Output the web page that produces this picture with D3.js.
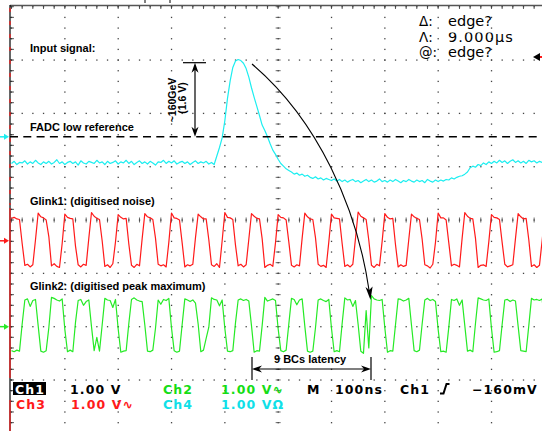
<!DOCTYPE html>
<html><head><meta charset="utf-8">
<script src="https://cdn.jsdelivr.net/npm/d3@7"></script>
<style>html,body{margin:0;padding:0;background:#fff;overflow:hidden}svg{display:block}</style>
</head><body>
<svg id="c" width="542" height="431"></svg>
<script>
// ---------- DATA ----------
const sampleStepNs = 5;            // one sample every 5 ns, 0..1000 ns (10 div x 100 ns)
// Ch4 (cyan) – input signal, volts relative to its ground marker
const ch4Values = [
 -0.50,-0.46,-0.52,-0.48,-0.49,-0.45,-0.51,-0.47,-0.50,-0.44,
 -0.49,-0.52,-0.47,-0.50,-0.46,-0.51,-0.48,-0.43,-0.50,-0.47,
 -0.52,-0.48,-0.46,-0.50,-0.47,-0.53,-0.45,-0.49,-0.51,-0.46,
 -0.48,-0.50,-0.44,-0.49,-0.47,-0.52,-0.46,-0.50,-0.48,-0.45,
 -0.51,-0.47,-0.49,-0.44,-0.50,-0.46,-0.52,-0.48,-0.45,-0.50,
 -0.47,-0.51,-0.46,-0.49,-0.53,-0.47,-0.48,-0.44,-0.50,-0.46,
 -0.49,-0.45,-0.51,-0.48,-0.46,-0.50,-0.47,-0.52,-0.48,-0.45,
 -0.50,-0.47,-0.49,-0.46,-0.51,-0.48,-0.52,-0.36,-0.20,-0.02,
  0.30, 0.72, 1.05, 1.30, 1.42, 1.45, 1.43, 1.38, 1.28, 1.12,
  0.92, 0.74, 0.57, 0.40, 0.22, 0.12, 0.00,-0.13,-0.25,-0.33,
 -0.42,-0.50,-0.55,-0.60,-0.63,-0.66,-0.70,-0.68,-0.72,-0.70,
 -0.74,-0.72,-0.76,-0.78,-0.75,-0.79,-0.77,-0.81,-0.78,-0.80,
 -0.82,-0.79,-0.83,-0.80,-0.84,-0.81,-0.85,-0.82,-0.80,-0.84,
 -0.82,-0.86,-0.83,-0.80,-0.84,-0.81,-0.85,-0.83,-0.79,-0.84,
 -0.82,-0.85,-0.81,-0.84,-0.80,-0.83,-0.86,-0.82,-0.84,-0.80,
 -0.83,-0.85,-0.81,-0.84,-0.82,-0.86,-0.80,-0.83,-0.85,-0.81,
 -0.84,-0.81,-0.83,-0.80,-0.81,-0.77,-0.79,-0.76,-0.74,-0.73,
 -0.70,-0.66,-0.58,-0.55,-0.57,-0.52,-0.54,-0.49,-0.52,-0.47,
 -0.50,-0.46,-0.49,-0.44,-0.48,-0.45,-0.50,-0.46,-0.43,-0.48,
 -0.45,-0.49,-0.46,-0.50,-0.44,-0.47,-0.45,-0.49,-0.46,-0.48,
 -0.47];
// Ch3 (red) – Glink1, digitised noise
const ch3Values = [
 0.42,0.44,0.41,0.40,-0.05,-0.46,-0.44,-0.49,-0.45,0.02,
 0.52,0.45,0.43,0.39,0.08,-0.47,-0.43,-0.48,-0.50,-0.05,
 0.50,0.44,0.42,0.41,-0.10,-0.45,-0.49,-0.44,-0.46,0.05,
 0.53,0.46,0.42,0.40,0.00,-0.48,-0.45,-0.50,-0.43,-0.02,
 0.49,0.44,0.41,0.42,-0.06,-0.46,-0.50,-0.44,-0.47,0.04,
 0.51,0.45,0.43,0.40,0.05,-0.44,-0.47,-0.45,-0.49,-0.03,
 0.52,0.43,0.42,0.39,-0.04,-0.49,-0.45,-0.47,-0.44,0.06,
 0.50,0.45,0.41,0.41,0.02,-0.45,-0.48,-0.43,-0.50,0.00,
 0.53,0.44,0.43,0.40,-0.08,-0.47,-0.44,-0.49,-0.45,0.03,
 0.51,0.46,0.42,0.41,0.04,-0.50,-0.46,-0.44,-0.48,-0.04,
 0.49,0.44,0.43,0.39,-0.02,-0.46,-0.49,-0.45,-0.47,0.05,
 0.52,0.45,0.41,0.40,0.06,-0.44,-0.48,-0.46,-0.50,-0.02,
 0.50,0.43,0.42,0.41,-0.05,-0.48,-0.45,-0.49,-0.44,0.04,
 0.54,0.46,0.43,0.40,0.01,-0.46,-0.50,-0.44,-0.47,-0.01,
 0.51,0.44,0.41,0.42,-0.07,-0.49,-0.45,-0.48,-0.46,0.03,
 0.50,0.45,0.42,0.40,0.03,-0.45,-0.47,-0.51,-0.44,-0.03,
 0.52,0.43,0.43,0.39,-0.04,-0.47,-0.44,-0.46,-0.49,0.05,
 0.53,0.46,0.42,0.41,0.05,-0.50,-0.46,-0.45,-0.48,-0.02,
 0.49,0.44,0.43,0.40,-0.03,-0.44,-0.49,-0.47,-0.45,0.04,
 0.51,0.45,0.41,0.42,0.02,-0.48,-0.45,-0.50,-0.46,0.00,
 0.50];
// Ch2 (green) – Glink2, digitised peak maximum
const ch2Values = [
 -0.45,-0.47,-0.44,-0.46,0.05,0.50,0.52,0.38,0.49,0.51,
 0.02,-0.46,-0.48,-0.45,-0.02,0.55,0.53,0.50,0.48,0.52,
 -0.05,-0.47,-0.44,-0.47,0.08,0.49,0.51,0.40,0.47,0.50,
 0.00,-0.45,-0.20,-0.46,0.03,0.53,0.50,0.49,0.36,0.51,
 -0.04,-0.48,-0.46,-0.45,0.06,0.51,0.54,0.50,0.48,0.47,
 0.03,-0.46,-0.47,-0.44,-0.03,0.50,0.42,0.51,0.49,0.53,
 -0.02,-0.45,-0.48,-0.46,0.04,0.52,0.50,0.47,0.50,0.44,
 0.05,-0.47,-0.44,-0.22,-0.01,0.54,0.51,0.50,0.39,0.50,
 -0.03,-0.46,-0.47,-0.45,0.07,0.50,0.52,0.49,0.51,0.48,
 0.02,-0.48,-0.45,-0.46,0.02,0.55,0.48,0.50,0.52,0.49,
 -0.04,-0.45,-0.47,-0.44,0.05,0.53,0.51,0.41,0.50,0.52,
 0.01,-0.46,-0.48,-0.46,-0.02,0.50,0.52,0.49,0.47,0.51,
 -0.03,-0.47,-0.45,-0.47,0.06,0.54,0.50,0.51,0.38,0.49,
 0.04,-0.46,-0.50,0.30,-0.40,0.58,0.52,0.50,0.49,0.51,
 -0.02,-0.48,-0.45,-0.46,0.03,0.52,0.51,0.48,0.50,0.53,
 0.03,-0.45,-0.47,-0.44,0.05,0.50,0.53,0.49,0.51,0.47,
 -0.05,-0.47,-0.46,-0.48,-0.01,0.51,0.49,0.52,0.40,0.50,
 0.02,-0.46,-0.44,-0.47,0.06,0.54,0.52,0.50,0.49,0.52,
 -0.03,-0.48,-0.47,-0.45,0.04,0.50,0.51,0.47,0.50,0.48,
 0.01,-0.45,-0.46,-0.47,0.02,0.53,0.50,0.51,0.49,0.52,
 0.02];
const traceLabels = ["Input signal:", "FADC low reference", "Glink1: (digitised noise)", "Glink2: (digitised peak maximum)"];
const amplitudeLabel = ["~160GeV", "(1.6 V)"];
const latencyLabel = "9 BCs latency";
const readoutSymbols = ["\u0394:", "\u039B:", "@:"];
const readoutValues = ["edge?", "9.000\u03BCs", "edge?"];
const statusRow1 = ["Ch1", "1.00 V", "Ch2", "1.00 V\u223F", "M", "100ns", "Ch1", "\u2212160mV"];
const statusRow2 = ["Ch3", "1.00 V\u223F", "Ch4", "1.00 V\u03A9"];

// ---------- SCALES ----------
const svg = d3.select("#c");
const x = d3.scaleLinear().domain([0, 1000]).range([11.5, 544.8]);   // ns
const y = d3.scaleLinear().domain([-4, 4]).range([433.3, 6.7]);      // divisions (1 V/div)
const ch4Pos = 1.56, ch3Pos = -0.39, ch2Pos = -2.0;                  // channel ground positions (div)
const C = {cyan: "#1ceef0", red: "#ff1a1a", green: "#26ea26", grid: "#444"};

// ---------- GRATICULE ----------
const g = svg.append("g");
const dots = [];
d3.range(-4, 4.01, 1).forEach(d => d3.range(0, 1001, 20).forEach(t => dots.push([x(t), y(d)])));
d3.range(0, 1001, 100).forEach(t => d3.range(-4, 4.01, 0.2).forEach(d => dots.push([x(t), y(d)])));
g.selectAll("rect.dot").data(dots).join("rect").attr("class", "dot")
  .attr("x", d => d[0] - 0.6).attr("y", d => d[1] - 0.6).attr("width", 1.3).attr("height", 1.3).attr("fill", C.grid);
g.selectAll("line.hc").data(d3.range(0, 1001, 20)).join("line").attr("class", "hc")
  .attr("x1", t => x(t)).attr("x2", t => x(t)).attr("y1", y(0) - 2.5).attr("y2", y(0) + 2.5).attr("stroke", C.grid).attr("stroke-width", 0.8);
g.selectAll("line.vc").data(d3.range(-4, 4.01, 0.2)).join("line").attr("class", "vc")
  .attr("y1", d => y(d)).attr("y2", d => y(d)).attr("x1", x(500) - 2.5).attr("x2", x(500) + 2.5).attr("stroke", C.grid).attr("stroke-width", 0.8);
g.selectAll("line.tt").data(d3.range(0, 1001, 20)).join("line").attr("class", "tt")
  .attr("x1", t => x(t)).attr("x2", t => x(t)).attr("y1", 5.5).attr("y2", 9).attr("stroke", "#333").attr("stroke-width", 0.8);
g.selectAll("line.lt").data(d3.range(-4, 4.01, 0.2)).join("line").attr("class", "lt")
  .attr("y1", d => y(d)).attr("y2", d => y(d)).attr("x1", 10).attr("x2", 14).attr("stroke", "#333").attr("stroke-width", 0.8);
g.append("line").attr("x1", 10).attr("x2", 542).attr("y1", 5.5).attr("y2", 5.5).attr("stroke", "#555").attr("stroke-width", 1.5);
g.append("line").attr("x1", 10).attr("x2", 10).attr("y1", 5).attr("y2", 431).attr("stroke", "#000").attr("stroke-width", 1.2);
g.append("line").attr("x1", 10).attr("x2", 10).attr("y1", 8).attr("y2", 205).attr("stroke", C.red).attr("stroke-width", 1.2).attr("stroke-dasharray", "4,9");
g.append("line").attr("x1", 10).attr("x2", 10).attr("y1", 208).attr("y2", 378).attr("stroke", C.red).attr("stroke-width", 1.2);
g.append("line").attr("x1", 10).attr("x2", 10).attr("y1", 400).attr("y2", 431).attr("stroke", C.red).attr("stroke-width", 1.2);
[145, 170].forEach(px => g.append("line").attr("x1", px).attr("x2", px).attr("y1", 0).attr("y2", 3).attr("stroke", "#000").attr("stroke-width", 1));

// ---------- TRACES ----------
function trace(values, offset, color) {
  const line = d3.line().x((v, i) => x(i * sampleStepNs)).y(v => y(v + offset));
  svg.append("path").datum(values).attr("d", line).attr("fill", "none")
    .attr("stroke", color).attr("stroke-width", 1.2).attr("stroke-linejoin", "round");
}
trace(ch3Values, ch3Pos, C.red);
trace(ch2Values, ch2Pos, C.green);
trace(ch4Values, ch4Pos, C.cyan);

[[ch4Pos, C.cyan], [ch3Pos, C.red], [ch2Pos, C.green]].forEach(([p, col]) => {
  const yy = y(p);
  svg.append("line").attr("x1", 0).attr("x2", 6).attr("y1", yy).attr("y2", yy).attr("stroke", col).attr("stroke-width", 1.5);
  svg.append("path").attr("d", `M4,${yy - 3}L9,${yy}L4,${yy + 3}Z`).attr("fill", col);
});
svg.append("path").attr("d", "M540,53L533,57L540,61Z").attr("fill", "#000");
svg.append("rect").attr("x", 540).attr("y", 56).attr("width", 2).attr("height", 2).attr("fill", C.red);

// ---------- ANNOTATIONS ----------
const ann = svg.append("g");
ann.append("line").attr("x1", 10).attr("x2", 542).attr("y1", y(ch4Pos)).attr("y2", y(ch4Pos))
  .attr("stroke", "#000").attr("stroke-width", 1.4).attr("stroke-dasharray", "8,5.3");
const peakY = y(ch4Pos + 1.39), refY = y(ch4Pos), ax = 195;
ann.append("line").attr("x1", 183).attr("x2", 206).attr("y1", peakY).attr("y2", peakY).attr("stroke", "#000").attr("stroke-width", 1.2);
ann.append("line").attr("x1", ax).attr("x2", ax).attr("y1", peakY + 6).attr("y2", refY - 6).attr("stroke", "#000").attr("stroke-width", 1.2);
ann.append("path").attr("d", `M${ax},${peakY}L${ax - 3.5},${peakY + 10}L${ax},${peakY + 7}L${ax + 3.5},${peakY + 10}Z`).attr("fill", "#000");
ann.append("path").attr("d", `M${ax},${refY}L${ax - 3.5},${refY - 10}L${ax},${refY - 7}L${ax + 3.5},${refY - 10}Z`).attr("fill", "#000");
const amp = ann.append("text").attr("transform", `translate(176,100) rotate(-90)`)
  .attr("font-family", "Liberation Sans, Arial, sans-serif").attr("font-weight", "bold").attr("font-size", 10.5).attr("text-anchor", "middle");
amp.append("tspan").attr("x", 0).attr("y", 0).text(amplitudeLabel[0]);
amp.append("tspan").attr("x", 2).attr("y", 10).text(amplitudeLabel[1]);
ann.append("path").attr("d", "M252,64 C318,120 357,208 369,290").attr("fill", "none").attr("stroke", "#000").attr("stroke-width", 1.1);
ann.append("path").attr("d", "M370.5,300 L365.5,287 L369.2,290 L372.6,286.5 Z").attr("fill", "#000");
const lx1 = 252, lx2 = 371, ly = 369;
ann.append("line").attr("x1", lx1).attr("x2", lx1).attr("y1", 357).attr("y2", 380).attr("stroke", "#000").attr("stroke-width", 1.2);
ann.append("line").attr("x1", lx2).attr("x2", lx2).attr("y1", 357).attr("y2", 380).attr("stroke", "#000").attr("stroke-width", 1.2);
ann.append("line").attr("x1", lx1 + 6).attr("x2", lx2 - 6).attr("y1", ly).attr("y2", ly).attr("stroke", "#000").attr("stroke-width", 1.2);
ann.append("path").attr("d", `M${lx1},${ly}L${lx1 + 10},${ly - 3.5}L${lx1 + 7},${ly}L${lx1 + 10},${ly + 3.5}Z`).attr("fill", "#000");
ann.append("path").attr("d", `M${lx2},${ly}L${lx2 - 10},${ly - 3.5}L${lx2 - 7},${ly}L${lx2 - 10},${ly + 3.5}Z`).attr("fill", "#000");
ann.append("text").attr("x", 274).attr("y", 363).attr("font-family", "Liberation Sans, Arial, sans-serif")
  .attr("font-weight", "bold").attr("font-size", 11).text(latencyLabel);

const labelY = [52, 131, 205, 290];
ann.selectAll("text.lbl").data(traceLabels).join("text").attr("class", "lbl")
  .attr("x", 30).attr("y", (d, i) => labelY[i]).attr("font-family", "Liberation Sans, Arial, sans-serif")
  .attr("font-weight", "bold").attr("font-size", 11).attr("fill", "#000").text(d => d);

// ---------- READOUT (top right) ----------
svg.append("defs").append("clipPath").attr("id", "clipR").append("rect").attr("x", 400).attr("y", 32.5).attr("width", 142).attr("height", 14);
const roY = [26, 41.5, 57];
readoutSymbols.forEach((s, i) => {
  svg.append("text").attr("x", 419).attr("y", roY[i]).attr("font-family", "DejaVu Sans, sans-serif").attr("font-size", 13.5).text(s);
  const t = svg.append("text").attr("x", 448).attr("y", roY[i]).attr("font-family", "DejaVu Sans, sans-serif")
    .attr("font-size", 14.5).attr("letter-spacing", i === 1 ? 1.1 : 0).text(readoutValues[i]);
  if (i === 1) t.attr("clip-path", "url(#clipR)");
});

// ---------- STATUS LINES ----------
const st = svg.append("g").attr("font-family", "DejaVu Sans, sans-serif").attr("font-size", 12.5).attr("font-weight", "bold").attr("letter-spacing", 1.1);
st.append("rect").attr("x", 13).attr("y", 382).attr("width", 33).attr("height", 13).attr("fill", "#000");
const row1X = [15, 70, 163, 221, 307, 335, 400, 472];
const row1C = ["#fff", "#000", "#16dd16", "#16dd16", "#000", "#000", "#000", "#000"];
statusRow1.forEach((s, i) => st.append("text").attr("x", row1X[i]).attr("y", 393.5).attr("fill", row1C[i]).text(s));
const row2X = [16, 71, 163, 221];
const row2C = ["#ff1a1a", "#ff1a1a", "#10e0e8", "#10e0e8"];
statusRow2.forEach((s, i) => st.append("text").attr("x", row2X[i]).attr("y", 408.5).attr("fill", row2C[i]).text(s));
svg.append("path").attr("d", "M440,393.5H443.5L446.5,384H449.5").attr("fill", "none").attr("stroke", "#000").attr("stroke-width", 2);
</script>
</body></html>
